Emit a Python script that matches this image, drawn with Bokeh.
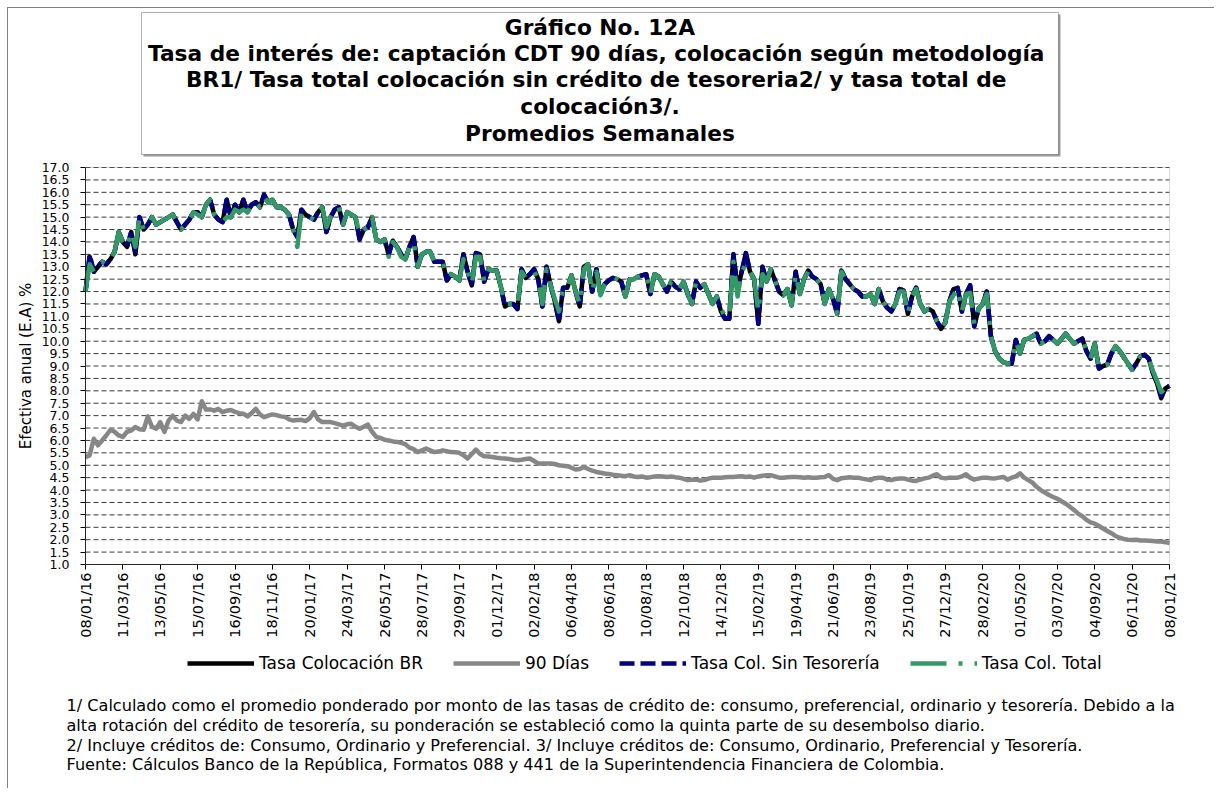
import numpy as np
import pandas as pd
from bokeh.plotting import figure
from bokeh.models import (Range1d, FixedTicker, PrintfTickFormatter, DatetimeTickFormatter,
                          LinearAxis, DatetimeAxis, Legend, LegendItem, Label, BoxAnnotation, Grid)
from bokeh.embed import file_html
from bokeh.resources import INLINE

FONT = "DejaVu Sans"

# ---------------- data ----------------
start_date = "2016-01-08"   # first weekly observation

tick_labels = ["08/01/16", "11/03/16", "13/05/16", "15/07/16", "16/09/16", "18/11/16",
               "20/01/17", "24/03/17", "26/05/17", "28/07/17", "29/09/17", "01/12/17",
               "02/02/18", "06/04/18", "08/06/18", "10/08/18", "12/10/18", "14/12/18",
               "15/02/19", "19/04/19", "21/06/19", "23/08/19", "25/10/19", "27/12/19",
               "28/02/20", "01/05/20", "03/07/20", "04/09/20", "06/11/20", "08/01/21"]

tasa_colocacion_br = [
    12.0, 13.4, 12.8, 13.0, 13.2, 13.1, 13.3, 13.6, 14.4,
    14.0, 13.8, 14.4, 13.5, 15.0, 14.5, 14.7, 15.0, 14.7,
    14.8, 14.9, 15.0, 15.1, 14.8, 14.5, 14.7, 14.9, 15.2,
    15.2, 15.0, 15.5, 15.7, 15.1, 14.9, 14.8, 15.7, 15.0,
    15.5, 15.2, 15.7, 15.2, 15.5, 15.6, 15.4, 15.9, 15.6,
    15.7, 15.4, 15.4, 15.3, 15.1, 14.5, 14.2, 15.3, 15.1,
    15.0, 14.9, 15.2, 15.4, 14.4, 15.0, 15.3, 15.4, 14.7,
    15.2, 15.1, 15.0, 14.1, 14.5, 14.6, 15.0, 14.1, 14.0,
    14.1, 13.5, 14.05, 13.8, 13.5, 13.3, 13.8, 14.2, 13.0,
    13.5, 13.6, 13.6, 13.2, 13.2, 13.2, 12.45, 12.7, 12.6,
    12.45, 13.5, 12.8, 12.25, 13.55, 13.5, 12.4, 12.9, 12.85,
    12.85, 12.2, 11.4, 11.5, 11.5, 11.3, 12.9, 12.55, 12.7,
    12.9, 12.5, 11.4, 13.0, 12.25, 11.6, 10.8, 12.15, 12.15,
    12.65, 12.0, 11.4, 13.0, 13.1, 12.0, 12.9, 11.9, 12.3,
    12.45, 12.55, 12.5, 12.4, 11.8, 12.5, 12.5, 12.6, 12.65,
    12.7, 11.9, 12.7, 12.6, 12.3, 12.0, 12.4, 12.2, 12.1,
    12.4, 11.9, 11.5, 12.4, 12.15, 12.3, 11.9, 11.5, 11.8,
    11.2, 10.9, 10.9, 13.5, 12.1, 12.8, 13.55, 12.8, 12.5,
    10.7, 13.0, 12.4, 12.9, 12.45, 12.0, 11.85, 12.1, 11.45,
    12.8, 11.9, 12.5, 12.85, 12.6, 12.5, 12.3, 11.5, 12.1,
    11.7, 11.1, 12.85, 12.5, 12.3, 12.1, 12.0, 11.8, 11.8,
    11.9, 11.5, 12.1, 11.6, 11.35, 11.2, 11.5, 12.1, 12.05,
    11.1, 11.8, 12.15, 11.5, 11.2, 11.3, 11.2, 10.8, 10.5,
    10.75, 11.6, 12.1, 12.15, 11.2, 11.9, 12.25, 10.6, 11.3,
    11.5, 12.0, 10.2, 9.6, 9.3, 9.15, 9.1, 9.1, 10.05,
    9.5, 10.05, 10.1, 10.2, 10.3, 9.9, 10.0, 10.2, 10.05,
    9.9, 10.1, 10.3, 10.1, 9.9, 10.0, 10.1, 9.6, 9.3,
    9.9, 8.9, 9.0, 9.05, 9.5, 9.8, 9.6, 9.35, 9.1,
    8.85, 9.1, 9.4, 9.45, 9.3, 8.7, 8.3, 7.7, 8.1, 8.2,
]

cdt_90_dias = [
    5.33, 5.4, 6.07, 5.8, 6.0, 6.2, 6.43, 6.35, 6.2,
    6.14, 6.35, 6.4, 6.54, 6.45, 6.43, 6.97, 6.55, 6.47,
    6.74, 6.34, 6.8, 7.0, 6.8, 6.74, 7.0, 6.87, 7.07,
    6.85, 7.58, 7.25, 7.25, 7.2, 7.27, 7.14, 7.2, 7.23,
    7.15, 7.1, 7.08, 6.97, 7.1, 7.27, 7.05, 6.94, 7.0,
    7.05, 7.02, 6.97, 6.95, 6.85, 6.8, 6.82, 6.83, 6.78,
    6.9, 7.14, 6.85, 6.74, 6.74, 6.74, 6.7, 6.65, 6.6,
    6.65, 6.67, 6.55, 6.47, 6.55, 6.64, 6.35, 6.14, 6.1,
    6.03, 6.0, 5.96, 5.94, 5.9, 5.85, 5.71, 5.65, 5.53,
    5.6, 5.67, 5.6, 5.53, 5.55, 5.6, 5.57, 5.53, 5.52,
    5.5, 5.4, 5.27, 5.45, 5.63, 5.45, 5.36, 5.35, 5.33,
    5.3, 5.28, 5.27, 5.25, 5.22, 5.2, 5.22, 5.25, 5.27,
    5.17, 5.07, 5.07, 5.07, 5.07, 5.05, 5.0, 4.98, 4.96,
    4.9, 4.83, 4.85, 4.93, 4.85, 4.78, 4.73, 4.7, 4.67,
    4.65, 4.62, 4.6, 4.58, 4.56, 4.6, 4.55, 4.53, 4.55,
    4.5, 4.52, 4.55, 4.56, 4.55, 4.53, 4.55, 4.52, 4.5,
    4.45, 4.4, 4.42, 4.42, 4.38, 4.4, 4.46, 4.5, 4.5,
    4.5, 4.52, 4.53, 4.53, 4.55, 4.56, 4.53, 4.55, 4.5,
    4.55, 4.58, 4.6, 4.6, 4.55, 4.5, 4.5, 4.52, 4.53,
    4.53, 4.52, 4.5, 4.52, 4.5, 4.5, 4.52, 4.53, 4.6,
    4.45, 4.4, 4.48, 4.5, 4.52, 4.5, 4.5, 4.46, 4.43,
    4.4, 4.48, 4.5, 4.5, 4.42, 4.4, 4.45, 4.47, 4.47,
    4.42, 4.38, 4.37, 4.42, 4.47, 4.5, 4.58, 4.64, 4.5,
    4.47, 4.5, 4.5, 4.5, 4.55, 4.64, 4.5, 4.42, 4.46,
    4.5, 4.5, 4.48, 4.47, 4.5, 4.53, 4.42, 4.5, 4.55,
    4.67, 4.5, 4.4, 4.3, 4.13, 4.0, 3.9, 3.8, 3.72,
    3.65, 3.55, 3.45, 3.33, 3.2, 3.05, 2.95, 2.8, 2.7,
    2.65, 2.55, 2.45, 2.35, 2.26, 2.15, 2.08, 2.03, 2.0,
    1.99, 2.0, 1.97, 1.97, 1.96, 1.95, 1.93, 1.93, 1.9, 1.86,
]

tasa_col_sin_tesoreria = [
    12.0, 13.5, 12.8, 13.0, 13.2, 13.1, 13.3, 13.6, 14.4,
    14.0, 13.8, 14.4, 13.6, 15.0, 14.5, 14.7, 15.0, 14.7,
    14.8, 14.9, 15.0, 15.1, 14.8, 14.5, 14.7, 14.9, 15.2,
    15.2, 15.0, 15.5, 15.7, 15.1, 14.9, 14.8, 15.7, 15.0,
    15.5, 15.2, 15.7, 15.2, 15.5, 15.6, 15.4, 15.9, 15.6,
    15.7, 15.4, 15.4, 15.3, 15.1, 14.5, 14.2, 15.3, 15.1,
    15.0, 14.9, 15.2, 15.4, 14.4, 15.0, 15.3, 15.4, 14.7,
    15.2, 15.1, 15.0, 14.1, 14.5, 14.6, 15.0, 14.1, 14.0,
    14.1, 13.5, 14.05, 13.8, 13.5, 13.3, 13.8, 14.2, 13.0,
    13.5, 13.6, 13.6, 13.2, 13.2, 13.2, 12.45, 12.7, 12.6,
    12.45, 13.5, 12.8, 12.25, 13.55, 13.5, 12.4, 12.9, 12.85,
    12.85, 12.2, 11.4, 11.5, 11.5, 11.3, 12.9, 12.55, 12.7,
    12.9, 12.5, 11.4, 13.0, 12.25, 11.6, 10.8, 12.15, 12.15,
    12.65, 12.0, 11.4, 13.0, 13.1, 12.0, 12.9, 11.9, 12.3,
    12.45, 12.55, 12.5, 12.4, 11.8, 12.5, 12.5, 12.6, 12.65,
    12.7, 11.9, 12.7, 12.6, 12.3, 12.0, 12.4, 12.2, 12.1,
    12.4, 11.9, 11.5, 12.4, 12.15, 12.3, 11.9, 11.5, 11.8,
    11.2, 10.9, 10.9, 13.5, 12.1, 12.8, 13.55, 12.8, 12.5,
    10.7, 13.0, 12.4, 12.9, 12.45, 12.0, 11.85, 12.1, 11.45,
    12.8, 11.9, 12.5, 12.85, 12.6, 12.5, 12.3, 11.5, 12.1,
    11.7, 11.1, 12.85, 12.5, 12.3, 12.1, 12.0, 11.8, 11.8,
    11.9, 11.5, 12.1, 11.6, 11.35, 11.2, 11.5, 12.1, 12.05,
    11.1, 11.8, 12.15, 11.5, 11.2, 11.3, 11.2, 10.8, 10.5,
    10.75, 11.6, 12.1, 12.15, 11.2, 11.9, 12.25, 10.6, 11.3,
    11.5, 12.0, 10.2, 9.6, 9.3, 9.15, 9.1, 9.1, 10.05,
    9.5, 10.05, 10.1, 10.2, 10.3, 9.9, 10.0, 10.2, 10.05,
    9.9, 10.1, 10.3, 10.1, 9.9, 10.0, 10.1, 9.6, 9.3,
    9.9, 8.9, 9.0, 9.05, 9.5, 9.8, 9.6, 9.35, 9.1,
    8.85, 9.1, 9.4, 9.45, 9.3, 8.75, 8.35, 7.8, 8.1, 8.2,
]

tasa_col_total = [
    12.0, 13.1, 12.8, 13.0, 13.2, 13.1, 13.3, 13.6, 14.4,
    14.0, 13.8, 14.4, 13.8, 15.0, 14.5, 14.7, 15.0, 14.7,
    14.8, 14.9, 15.0, 15.1, 14.8, 14.5, 14.7, 14.9, 15.2,
    15.1, 15.0, 15.5, 15.7, 15.1, 14.9, 14.8, 15.0, 15.0,
    15.3, 15.2, 15.3, 15.2, 15.5, 15.6, 15.4, 15.8, 15.6,
    15.7, 15.4, 15.4, 15.3, 15.1, 14.5, 13.8, 15.2, 15.1,
    15.0, 14.9, 15.2, 15.4, 14.6, 15.0, 15.3, 15.4, 14.7,
    15.2, 15.1, 15.0, 14.3, 14.5, 14.6, 15.0, 14.1, 14.0,
    14.1, 13.4, 14.0, 13.8, 13.4, 13.3, 13.8, 14.0, 13.0,
    13.5, 13.6, 13.6, 13.2, 13.2, 13.2, 12.6, 12.7, 12.6,
    12.45, 13.3, 12.8, 12.3, 13.4, 13.4, 12.4, 12.9, 12.85,
    12.85, 12.2, 11.5, 11.5, 11.5, 11.4, 12.8, 12.55, 12.7,
    12.8, 12.5, 11.5, 12.9, 12.25, 11.7, 11.2, 12.15, 12.15,
    12.65, 12.0, 11.5, 12.9, 13.1, 12.0, 12.8, 11.85, 12.3,
    12.45, 12.55, 12.5, 12.4, 11.8, 12.5, 12.5, 12.6, 12.65,
    12.7, 11.9, 12.7, 12.6, 12.3, 12.0, 12.4, 12.2, 12.1,
    12.4, 11.9, 11.5, 12.4, 12.15, 12.3, 11.9, 11.5, 11.8,
    11.3, 11.0, 11.0, 13.2, 11.8, 12.8, 13.1, 12.8, 12.5,
    11.2, 12.7, 12.4, 12.9, 12.45, 12.0, 11.85, 12.1, 11.45,
    12.7, 11.9, 12.5, 12.8, 12.6, 12.5, 12.3, 11.5, 12.1,
    11.7, 11.1, 12.8, 12.5, 12.3, 12.1, 12.0, 11.8, 11.8,
    11.9, 11.5, 12.1, 11.6, 11.35, 11.2, 11.5, 12.0, 12.0,
    11.1, 11.8, 12.1, 11.5, 11.2, 11.3, 11.2, 10.8, 10.5,
    10.75, 11.6, 11.85, 12.1, 11.2, 11.9, 11.95, 10.7, 11.3,
    11.5, 11.9, 10.2, 9.6, 9.3, 9.15, 9.1, 9.1, 10.0,
    9.5, 10.05, 10.1, 10.2, 10.3, 9.9, 10.0, 10.2, 10.05,
    9.9, 10.1, 10.3, 10.1, 9.9, 10.0, 10.1, 9.6, 9.3,
    9.9, 8.9, 9.0, 9.05, 9.5, 9.8, 9.6, 9.35, 9.1,
    8.85, 9.1, 9.4, 9.45, 9.3, 8.8, 8.4, 7.95, 8.1, 8.1,
]

series_names = ["Tasa Colocación BR", "90 Días", "Tasa Col. Sin Tesorería", "Tasa Col. Total"]

title_lines = ["Gráfico No. 12A",
               "Tasa de interés de: captación CDT 90 días,  colocación según metodología",
               "BR1/  Tasa total colocación sin crédito de tesoreria2/ y tasa total de",
               "colocación3/.",
               "Promedios Semanales"]

footnotes = ["1/ Calculado como el promedio ponderado por monto de las tasas de crédito de: consumo, preferencial, ordinario y tesorería.  Debido a la",
             "alta rotación del crédito de tesorería,  su ponderación se estableció como la quinta parte de su desembolso diario.",
             "2/ Incluye créditos de: Consumo, Ordinario y Preferencial.   3/ Incluye créditos de: Consumo, Ordinario, Preferencial y Tesorería.",
             "Fuente: Cálculos Banco de la República, Formatos 088 y 441 de la Superintendencia Financiera de Colombia."]

y_label = "Efectiva anual (E.A) %"
y_min, y_max, y_step = 1.0, 17.0, 0.5

# ---------------- geometry (page pixels) ----------------
X0, X1, Y0, Y1 = 8, 1215, 8, 789          # canvas on the page
FL, FR, FT, FB = 85, 1169, 167, 564       # plot area
W, H = X1 - X0, Y1 - Y0

dates = pd.date_range(start_date, periods=len(tasa_colocacion_br), freq="7D")
tick_dates = pd.to_datetime(tick_labels, format="%d/%m/%y")
tick_ms = [d.timestamp() * 1000.0 for d in tick_dates]
t0, t1 = tick_ms[0], tick_ms[-1]


def dx(px):   # page x -> data x (ms)
    return t0 + (px - FL) / (FR - FL) * (t1 - t0)


def dy(py):   # page y -> data y
    return y_min + (FB - py) / (FB - FT) * (y_max - y_min)


p = figure(width=W, height=H, output_backend="svg", toolbar_location=None,
           x_range=Range1d(dx(X0), dx(X1)), y_range=Range1d(dy(Y1), dy(Y0)),
           x_axis_location=None, y_axis_location=None, min_border=0)
p.min_border_left = p.min_border_right = p.min_border_top = p.min_border_bottom = 0
p.outline_line_color = None
p.background_fill_color = "white"
p.border_fill_color = "white"
p.styles = {"margin-left": "7px", "margin-top": "7px",
            "border-left": "1px solid #808080", "border-top": "1px solid #808080"}
for r in list(p.center):
    if isinstance(r, Grid):
        r.visible = False

# horizontal dashed grid over the plot area
yt = list(np.arange(y_min, y_max + 0.01, y_step))
p.segment(x0=[t0] * len(yt), x1=[t1] * len(yt), y0=yt, y1=yt,
          line_color="#3a3a3a", line_width=1, line_dash="5 3")

# series
r_br = p.line(dates, tasa_colocacion_br, line_color="black", line_width=4.5, line_join="round")
r_90 = p.line(dates, cdt_90_dias, line_color="#878787", line_width=4.5, line_join="round")
r_st = p.line(dates, tasa_col_sin_tesoreria, line_color="#000080", line_width=4.5,
              line_join="round", line_dash="15 6")
r_tt = p.line(dates, tasa_col_total, line_color="#339966", line_width=4.5,
              line_join="round", line_dash="36 12 4 12")

# plot-area outline
p.add_layout(BoxAnnotation(left=t0, right=t1, bottom=y_min, top=y_max,
                           fill_alpha=0, line_color="#808080", line_width=1))

# axes fixed at the plot-area edges
yaxis = LinearAxis(fixed_location=t0, bounds=(y_min, y_max),
                   ticker=FixedTicker(ticks=yt), formatter=PrintfTickFormatter(format="%.1f"))
fmt = "%d/%m/%y"
xaxis = DatetimeAxis(fixed_location=y_min, bounds=(t0, t1), ticker=FixedTicker(ticks=tick_ms),
                     formatter=DatetimeTickFormatter(milliseconds=fmt, seconds=fmt, minsec=fmt,
                                                     minutes=fmt, hourmin=fmt, hours=fmt,
                                                     days=fmt, months=fmt, years=fmt))
yaxis.major_label_text_font_size = "12.5px"
yaxis.major_label_standoff = 11
xaxis.major_label_orientation = np.pi / 2
xaxis.major_label_text_font_size = "14.5px"
xaxis.major_label_standoff = 3
for ax in (xaxis, yaxis):
    ax.major_label_text_font = FONT
    ax.major_label_text_color = "black"
    ax.axis_line_color = "black"
    ax.axis_line_width = 1
    ax.major_tick_line_color = "black"
    ax.major_tick_out = 5
    ax.major_tick_in = 0
    ax.minor_tick_line_color = None
p.add_layout(yaxis, "left")
p.add_layout(xaxis, "below")

# y axis title
p.add_layout(Label(x=dx(25), y=dy(365.5), text=y_label, angle=np.pi / 2,
                   text_align="center", text_baseline="middle", text_font=FONT,
                   text_font_size="15px", text_color="black"))

# legend
legend = Legend(items=[LegendItem(label=n, renderers=[r]) for n, r in
                       zip(series_names, [r_br, r_90, r_st, r_tt])],
                location=(187 - X0, Y1 - 673), orientation="horizontal",
                glyph_width=67, glyph_height=20, label_height=20, label_standoff=5,
                spacing=30, padding=0, margin=0, border_line_color=None,
                background_fill_alpha=0, label_text_font=FONT,
                label_text_font_size="17px", label_text_color="black")
p.add_layout(legend)

# title box (with a thin grey shadow on the right and bottom)
p.add_layout(BoxAnnotation(left=dx(143), right=dx(1060), top=dy(14), bottom=dy(156),
                           fill_color="#9a9a9a", fill_alpha=1.0, line_alpha=0))
p.add_layout(BoxAnnotation(left=dx(141), right=dx(1058), top=dy(12), bottom=dy(154),
                           fill_color="white", fill_alpha=1.0, line_color="black", line_width=1))
for txt, yy in zip(title_lines, [27, 53, 79, 106, 133]):
    p.add_layout(Label(x=dx(599.5), y=dy(yy), text=txt, text_align="center",
                       text_baseline="middle", text_font=FONT, text_font_style="bold",
                       text_font_size="21.7px", text_color="black"))

# footnotes
for txt, yy in zip(footnotes, [705, 725, 745, 764]):
    p.add_layout(Label(x=dx(66), y=dy(yy), text=txt, text_align="left", text_baseline="middle",
                       text_font=FONT, text_font_size="16.1px", text_color="black"))

open("out.html", "w").write(file_html(p, INLINE))
